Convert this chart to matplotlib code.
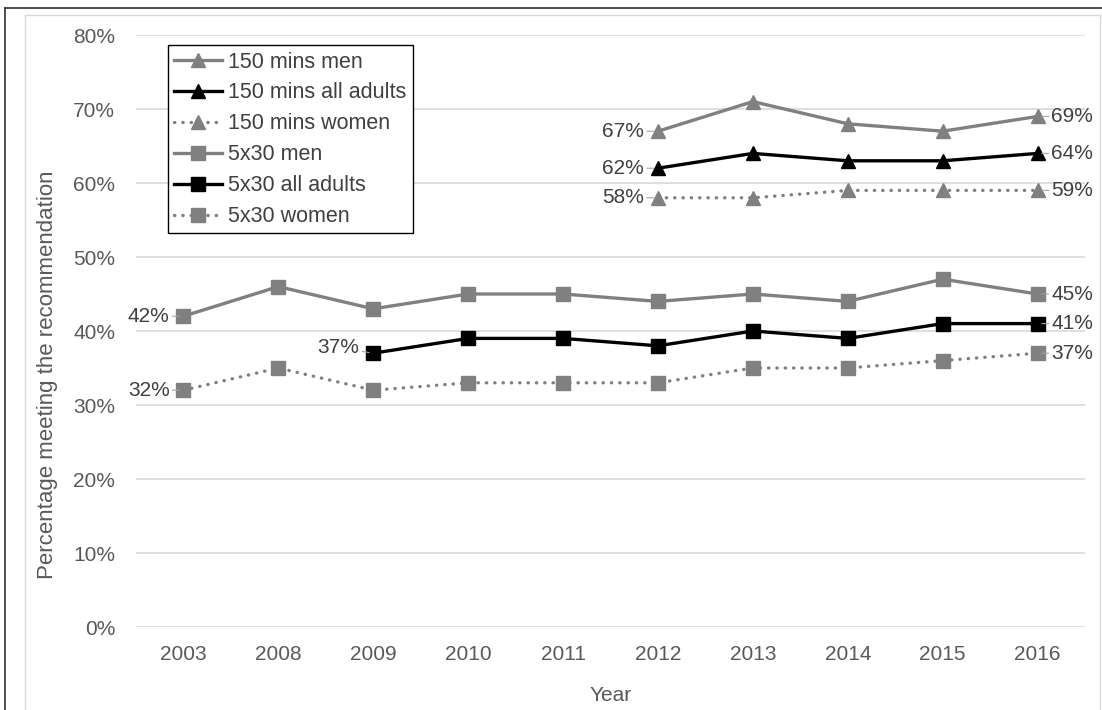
import matplotlib
matplotlib.use("Agg")

import matplotlib.pyplot as plt
from matplotlib.lines import Line2D
from matplotlib.ticker import PercentFormatter

plt.rcParams["font.family"] = ["Liberation Sans", "DejaVu Sans"]

years = ["2003", "2008", "2009", "2010", "2011", "2012", "2013", "2014", "2015", "2016"]

# 150 minute recommendation (from 2012 only)
mins150_men = [None, None, None, None, None, 67, 71, 68, 67, 69]
mins150_all = [None, None, None, None, None, 62, 64, 63, 63, 64]
mins150_women = [None, None, None, None, None, 58, 58, 59, 59, 59]

# 5x30 recommendation
fx30_men = [42, 46, 43, 45, 45, 44, 45, 44, 47, 45]
fx30_all = [None, None, 37, 39, 39, 38, 40, 39, 41, 41]
fx30_women = [32, 35, 32, 33, 33, 33, 35, 35, 36, 37]

GREY = "#808080"
TXT = "#595959"
LBL = "#404040"
DOTS = (0, (0.1, 2.4))

series = [
    ("150 mins men", mins150_men, GREY, "-", "^"),
    ("150 mins all adults", mins150_all, "black", "-", "^"),
    ("150 mins women", mins150_women, GREY, DOTS, "^"),
    ("5x30 men", fx30_men, GREY, "-", "s"),
    ("5x30 all adults", fx30_all, "black", "-", "s"),
    ("5x30 women", fx30_women, GREY, DOTS, "s"),
]

fig = plt.figure(figsize=(11.02, 7.10), dpi=100)
ax = fig.add_axes([0.1234, 0.1169, 0.8612, 0.8338])

x = list(range(len(years)))
for name, vals, col, ls, mk in series:
    xs = [i for i, v in zip(x, vals) if v is not None]
    ys = [v for v in vals if v is not None]
    ms = 10.5 if mk == "^" else 9.5
    ax.plot(xs, ys, color=col, ls=ls, lw=2.4, marker=mk, ms=ms,
            mfc=col, mec=col, mew=1, label=name,
            dash_capstyle="round", solid_joinstyle="round")

    # first and last point labels with short leader lines
    dy = 4 if name == "5x30 all adults" else 0
    ax.annotate(f"{ys[0]}%", (xs[0], ys[0]), xytext=(-10, dy),
                textcoords="offset points", ha="right", va="center",
                fontsize=15, color=LBL,
                arrowprops=dict(arrowstyle="-", color="#a6a6a6", lw=0.8,
                                shrinkA=0, shrinkB=3))
    ax.annotate(f"{ys[-1]}%", (xs[-1], ys[-1]), xytext=(10, 0),
                textcoords="offset points", ha="left", va="center",
                fontsize=15, color=LBL,
                arrowprops=dict(arrowstyle="-", color="#a6a6a6", lw=0.8,
                                shrinkA=0, shrinkB=3))

ax.set_xlim(-0.5, len(years) - 0.5)
ax.set_ylim(0, 80)
ax.set_yticks(range(0, 81, 10))
ax.yaxis.set_major_formatter(PercentFormatter(decimals=0))
ax.set_xticks(x)
ax.set_xticklabels(years)
ax.tick_params(length=0, labelsize=15, labelcolor=TXT)
ax.tick_params(axis="y", pad=15)
ax.tick_params(axis="x", pad=13)
ax.grid(axis="y", color="#d9d9d9", lw=1.2)
ax.set_axisbelow(True)
for sp in ax.spines.values():
    sp.set_visible(False)

ax.set_xlabel("Year", fontsize=15, color=TXT)
ax.xaxis.set_label_coords(0.5, -0.115)
ax.xaxis.label.set_va("center")
ax.set_ylabel("Percentage meeting the recommendation", fontsize=16, color=TXT)
ax.yaxis.set_label_coords(-0.093, 0.426)
ax.yaxis.label.set_va("center")

leg = ax.legend(loc="upper left", bbox_to_anchor=(0.0337, 0.983), borderaxespad=0,
                fontsize=15.5, handlelength=2.2, handletextpad=0.28,
                labelspacing=0.46, borderpad=0.3, fancybox=False,
                framealpha=1, edgecolor="black")
leg.get_frame().set_linewidth(1.0)
for t in leg.get_texts():
    t.set_color(LBL)

# frame lines around the chart
fig.add_artist(Line2D([5 / 1102, 5 / 1102], [0, 1 - 8 / 710], color="#404040", lw=1.3))
fig.add_artist(Line2D([5 / 1102, 1], [1 - 8 / 710, 1 - 8 / 710], color="#404040", lw=1.3))
fig.add_artist(Line2D([25 / 1102, 25 / 1102], [0, 1 - 15 / 710], color="#d9d9d9", lw=1.0))
fig.add_artist(Line2D([25 / 1102, 1100 / 1102], [1 - 15 / 710, 1 - 15 / 710], color="#d9d9d9", lw=1.0))
fig.add_artist(Line2D([1100 / 1102, 1100 / 1102], [0, 1 - 15 / 710], color="#d9d9d9", lw=1.0))

fig.savefig("out.png", dpi=100)
